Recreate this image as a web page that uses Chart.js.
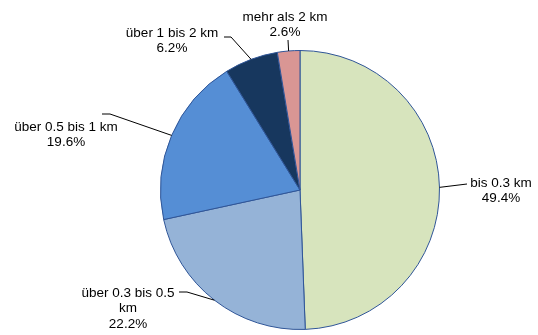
<!DOCTYPE html>
<html>
<head>
<meta charset="utf-8">
<script src="https://cdn.jsdelivr.net/npm/chart.js@4"></script>
<style>
  html, body { margin: 0; padding: 0; background: #fff; }
  canvas { display: block; }
</style>
</head>
<body>
<canvas id="chart" width="538" height="335"></canvas>
<script>
// Wegstrecken – Anteile je Entfernungsklasse
const categories = ['bis 0.3 km', 'über 0.3 bis 0.5 km', 'über 0.5 bis 1 km', 'über 1 bis 2 km', 'mehr als 2 km'];
const labelLines = [['bis 0.3 km'], ['über 0.3 bis 0.5', 'km'], ['über 0.5 bis 1 km'], ['über 1 bis 2 km'], ['mehr als 2 km']];
const shares = [49.4, 22.2, 19.6, 6.2, 2.6];
const colors = ['#D7E4BD', '#95B3D7', '#558ED5', '#17375E', '#D99694'];

// Beschriftungsposition (Textmitte) und Knick der Führungslinie je Segment
const labelLayout = [
  { tx: 501, ty: 183, elbow: [467, 184], end: [467, 184] },
  { tx: 128, ty: 293, elbow: [187, 292], end: [179, 292] },
  { tx: 66,  ty: 127, elbow: [110, 114], end: [102, 114] },
  { tx: 172, ty: 33,  elbow: [231, 37],  end: [224, 37] },
  { tx: 285, ty: 17,  elbow: [288, 40],  end: [288, 40] }
];

const leaderLabels = {
  id: 'leaderLabels',
  afterDatasetsDraw(chart) {
    const ctx = chart.ctx;
    const meta = chart.getDatasetMeta(0);
    ctx.save();
    ctx.font = '13.5px "Liberation Sans", Arial, sans-serif';
    ctx.fillStyle = '#000';
    ctx.strokeStyle = '#000';
    ctx.lineWidth = 1;
    ctx.textAlign = 'center';
    ctx.textBaseline = 'middle';
    meta.data.forEach((arc, i) => {
      const p = arc.getProps(['x', 'y', 'startAngle', 'endAngle', 'outerRadius'], true);
      const mid = (p.startAngle + p.endAngle) / 2;
      const ax = p.x + Math.cos(mid) * p.outerRadius;
      const ay = p.y + Math.sin(mid) * p.outerRadius;
      const L = labelLayout[i];
      ctx.beginPath();
      ctx.moveTo(ax, ay);
      ctx.lineTo(L.elbow[0], L.elbow[1]);
      ctx.lineTo(L.end[0], L.end[1]);
      ctx.stroke();
      const lines = labelLines[i].concat([shares[i].toFixed(1) + '%']);
      lines.forEach((t, k) => ctx.fillText(t, L.tx, L.ty + k * 15.5));
    });
    ctx.restore();
  }
};

new Chart(document.getElementById('chart'), {
  type: 'pie',
  data: {
    labels: categories,
    datasets: [{
      data: shares,
      backgroundColor: colors,
      borderColor: '#2F5597',
      borderWidth: 1
    }]
  },
  options: {
    responsive: false,
    animation: false,
    layout: { padding: { left: 160, right: 98, top: 50, bottom: 5 } },
    plugins: {
      legend: { display: false },
      tooltip: { enabled: false }
    }
  },
  plugins: [leaderLabels]
});
</script>
</body>
</html>
